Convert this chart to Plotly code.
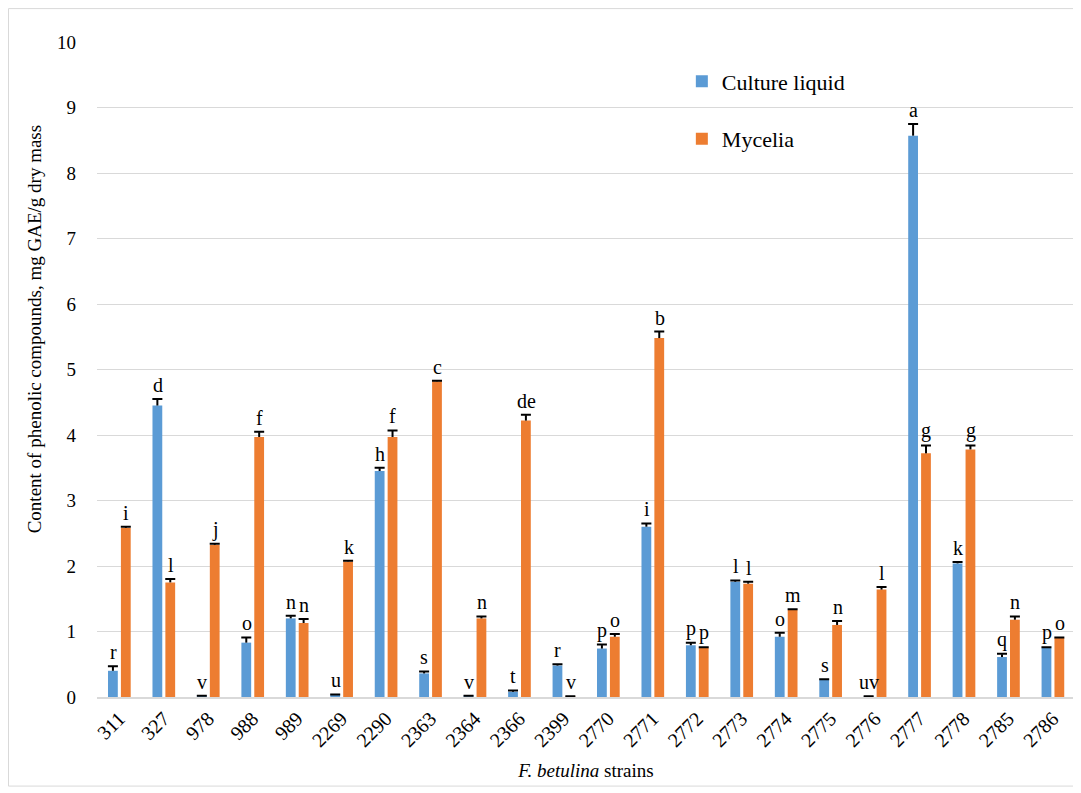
import plotly.graph_objects as go

strains = ["311", "327", "978", "988", "989", "2269", "2290", "2363", "2364", "2366", "2399",
           "2770", "2771", "2772", "2773", "2774", "2775", "2776", "2777", "2778", "2785", "2786"]
culture_liquid = [0.40, 4.45, 0.02, 0.83, 1.20, 0.04, 3.45, 0.36, 0.02, 0.08, 0.48,
                  0.74, 2.60, 0.79, 1.76, 0.92, 0.26, 0.01, 8.57, 2.04, 0.61, 0.75]
culture_liquid_err = [0.07, 0.10, 0.0, 0.08, 0.04, 0.0, 0.05, 0.03, 0.0, 0.02, 0.02,
                      0.06, 0.05, 0.04, 0.02, 0.06, 0.01, 0.0, 0.18, 0.02, 0.05, 0.01]
mycelia = [2.58, 1.75, 2.32, 3.97, 1.13, 2.07, 3.97, 4.82, 1.20, 4.22, 0.01,
           0.92, 5.48, 0.75, 1.73, 1.33, 1.10, 1.64, 3.72, 3.78, 1.18, 0.90]
mycelia_err = [0.02, 0.05, 0.02, 0.08, 0.06, 0.01, 0.10, 0.01, 0.03, 0.09, 0.0,
               0.04, 0.10, 0.01, 0.03, 0.01, 0.06, 0.04, 0.12, 0.06, 0.05, 0.01]
cl_letters = ["r", "d", "v", "o", "n", "u", "h", "s", "v", "t", "r",
              "p", "i", "p", "l", "o", "s", "uv", "a", "k", "q", "p"]
my_letters = ["i", "l", "j", "f", "n", "k", "f", "c", "n", "de", "v",
              "o", "b", "p", "l", "m", "n", "l", "g", "g", "n", "o"]

FONT = "'Times New Roman', 'Liberation Serif', Times, serif"
BLUE = "#5b9bd5"
ORANGE = "#ed7d31"
BAR_W = 0.22
n = len(strains)

fig = go.Figure()
series = [
    ("Culture liquid", culture_liquid, culture_liquid_err, BLUE, -0.252),
    ("Mycelia", mycelia, mycelia_err, ORANGE, 0.038),
]
for name, vals, errs, color, off in series:
    # main bars with error-bar stems (no caps)
    fig.add_trace(go.Bar(
        name=name, x=strains, y=vals, marker_color=color, marker_line_width=0,
        width=BAR_W, offset=off, legendgroup=name,
        error_y=dict(type="data", array=errs, arrayminus=[0] * n, symmetric=False,
                     color="black", thickness=2, width=0),
    ))
    # caps at top of error bars only
    fig.add_trace(go.Bar(
        x=strains, y=[0] * n, base=[v + e for v, e in zip(vals, errs)],
        marker_color="rgba(0,0,0,0)", width=BAR_W, offset=off,
        showlegend=False, hoverinfo="skip", legendgroup=name,
        error_y=dict(type="data", array=[0] * n, symmetric=True,
                     color="black", thickness=2, width=5),
    ))

annotations = []
for i, (v, e, t) in enumerate(zip(culture_liquid, culture_liquid_err, cl_letters)):
    annotations.append(dict(x=i, y=v + e, text=t, showarrow=False, xshift=-6,
                            yanchor="bottom", yshift=1, font=dict(family=FONT, size=20, color="black")))
for i, (v, e, t) in enumerate(zip(mycelia, mycelia_err, my_letters)):
    annotations.append(dict(x=i, y=v + e, text=t, showarrow=False, xshift=7,
                            yanchor="bottom", yshift=1, font=dict(family=FONT, size=20, color="black")))
# y-axis title (placed as in the reference, slightly above plot centre)
annotations.append(dict(xref="paper", yref="paper", x=-0.064, y=0.562, xanchor="center", yanchor="middle",
                        text="Content of phenolic compounds, mg GAE/g dry mass", textangle=-90,
                        showarrow=False, font=dict(family=FONT, size=19, color="black")))

fig.update_layout(
    width=1081, height=793,
    margin=dict(l=89, r=14, t=34, b=104),
    paper_bgcolor="white", plot_bgcolor="white",
    barmode="overlay",
    font=dict(family=FONT, size=18, color="black"),
    showlegend=True,
    legend=dict(x=0.598, y=0.972, xanchor="left", yanchor="top",
                font=dict(family=FONT, size=22, color="black"),
                traceorder="grouped", tracegroupgap=26,
                bgcolor="rgba(0,0,0,0)", itemwidth=30),
    annotations=annotations,
    shapes=[dict(type="rect", xref="paper", yref="paper",
                 x0=-0.0905, x1=1.004, y0=-0.136, y1=1.051,
                 line=dict(color="#d9d9d9", width=1), fillcolor="rgba(0,0,0,0)", layer="below")],
)
fig.update_yaxes(range=[0, 10], dtick=1, showgrid=True, gridcolor="#d9d9d9", gridwidth=1,
                 zeroline=False, showline=False, ticks="", ticklen=0, ticklabelstandoff=20,
                 tickfont=dict(family=FONT, size=19))
fig.update_xaxes(type="category", range=[-0.5, n - 0.5], tickangle=-45, showline=True,
                 linecolor="#d9d9d9", linewidth=2,
                 ticks="", tickfont=dict(family=FONT, size=20),
                 title=dict(text="<i>F. betulina</i> strains", font=dict(family=FONT, size=19), standoff=14))

fig.write_html("out.html")
